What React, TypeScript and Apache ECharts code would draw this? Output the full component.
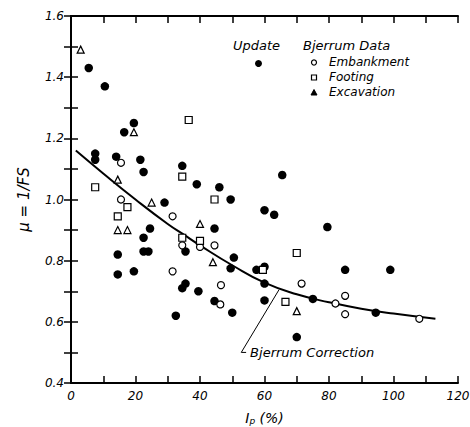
import React, { useEffect, useRef } from "react";
import * as echarts from "echarts";

// Updated case-history data (filled circles)
const updateX = [5.5, 10.5, 19.5, 16.5, 7.5, 7.5, 14, 21.5, 22.5, 34.5, 39, 29, 65.5, 46, 49.5, 24.5, 22.5, 35.5, 14.5, 22.5, 24, 14.5, 19.5, 35.5, 34.5, 39.5, 32.5, 60, 63, 79.5, 44.5, 50.5, 49.5, 57.5, 60, 60, 44.5, 50, 60, 75, 70, 85, 99, 94.5];
const updateY = [1.43, 1.37, 1.25, 1.22, 1.15, 1.13, 1.14, 1.13, 1.09, 1.11, 1.05, 0.99, 1.08, 1.04, 1.0, 0.905, 0.875, 0.83, 0.82, 0.83, 0.83, 0.755, 0.765, 0.725, 0.71, 0.7, 0.62, 0.965, 0.95, 0.91, 0.905, 0.81, 0.775, 0.77, 0.78, 0.725, 0.668, 0.63, 0.67, 0.675, 0.55, 0.77, 0.77, 0.63];

// Bjerrum data
const embankmentX = [15.5, 15.5, 31.5, 34.5, 40, 44.5, 31.5, 46.5, 46.3, 71.5, 85, 82, 85, 108];
const embankmentY = [1.12, 1.0, 0.945, 0.85, 0.845, 0.85, 0.765, 0.72, 0.657, 0.725, 0.685, 0.66, 0.625, 0.61];
const footingX = [36.5, 34.5, 7.5, 44.5, 17.5, 14.5, 34.5, 40, 70, 59.5, 66.5];
const footingY = [1.26, 1.075, 1.04, 1.0, 0.975, 0.945, 0.875, 0.865, 0.825, 0.77, 0.665];
const excavationX = [3, 19.5, 14.5, 25, 14.5, 17.5, 40, 44, 70];
const excavationY = [1.49, 1.22, 1.065, 0.99, 0.9, 0.9, 0.92, 0.795, 0.635];

// Bjerrum correction curve
const curveX = [1.5, 10, 20, 30, 35, 40, 50, 60, 70, 80, 90, 100, 113];
const curveY = [1.16, 1.085, 1.0, 0.92, 0.885, 0.85, 0.785, 0.728, 0.69, 0.664, 0.643, 0.627, 0.61];

// Leader line for the curve annotation
const leaderX = [64.5, 52.8, 54.3];
const leaderY = [0.705, 0.5, 0.5];

const xTicks = { min: 0, max: 120, step: 10 };
const yTicks = { min: 0.4, max: 1.6, step: 0.1 };

const zip = (xs: number[], ys: number[]) => xs.map((x, i) => [x, ys[i]]);

const FONT = "DejaVu Sans";
const INK = "#000";

export default function App() {
  const ref = useRef<HTMLDivElement>(null);
  useEffect(() => {
    if (!ref.current) return;
    const chart = echarts.init(ref.current, null, { renderer: "svg" });
    const labelStyle = { fontFamily: FONT, fontStyle: "italic", fontSize: 12, color: INK };
    const axisLine = { show: true, lineStyle: { color: INK, width: 2 } };
    const tick = { show: true, inside: true, length: 7, lineStyle: { color: INK, width: 1.5 } };
    const openStyle = { color: "#fff", borderColor: INK, borderWidth: 1.2, opacity: 1 };
    chart.setOption({
      animation: false,
      backgroundColor: "#fff",
      grid: { left: 71, top: 16, right: 12, bottom: 44, outerBoundsMode: "none", containLabel: false },
      xAxis: [
        {
          type: "value",
          min: xTicks.min,
          max: xTicks.max,
          interval: xTicks.step,
          position: "bottom",
          axisLine,
          axisTick: tick,
          splitLine: { show: false },
          axisLabel: {
            ...labelStyle,
            margin: 7,
            formatter: (v: number) => (Math.round(v) % 20 === 0 ? String(Math.round(v)) : ""),
          },
          name: "I{s|p} (%)",
          nameLocation: "middle",
          nameGap: 27,
          nameTextStyle: {
            fontFamily: FONT,
            fontStyle: "italic",
            fontSize: 14,
            color: INK,
            rich: { s: { fontFamily: FONT, fontStyle: "italic", fontSize: 9, color: INK, verticalAlign: "bottom", padding: [6, 0, 0, 0] } },
          },
        },
        {
          type: "value",
          min: xTicks.min,
          max: xTicks.max,
          interval: xTicks.step,
          position: "top",
          axisLine,
          axisTick: tick,
          splitLine: { show: false },
          axisLabel: { show: false },
        },
      ],
      yAxis: [
        {
          type: "value",
          min: yTicks.min,
          max: yTicks.max,
          interval: yTicks.step,
          position: "left",
          axisLine,
          axisTick: tick,
          splitLine: { show: false },
          axisLabel: {
            ...labelStyle,
            margin: 7,
            formatter: (v: number) => (Math.round(v * 10) % 2 === 0 ? v.toFixed(1) : ""),
          },
          name: "μ = 1/FS",
          nameLocation: "middle",
          nameRotate: 90,
          nameGap: 40,
          nameTextStyle: { fontFamily: FONT, fontStyle: "italic", fontSize: 15, color: INK },
        },
        {
          type: "value",
          min: yTicks.min,
          max: yTicks.max,
          interval: yTicks.step,
          position: "right",
          axisLine,
          axisTick: tick,
          splitLine: { show: false },
          axisLabel: { show: false },
        },
      ],
      series: [
        {
          type: "line",
          data: zip(curveX, curveY),
          smooth: true,
          symbol: "none",
          lineStyle: { color: INK, width: 2, opacity: 1 },
          z: 2,
        },
        {
          type: "line",
          data: zip(leaderX, leaderY),
          symbol: "none",
          lineStyle: { color: INK, width: 1, opacity: 1 },
          endLabel: {
            show: true,
            formatter: "Bjerrum Correction",
            fontFamily: FONT,
            fontStyle: "italic",
            fontSize: 13,
            color: INK,
            distance: 4,
          },
          z: 2,
        },
        {
          type: "scatter",
          data: zip(updateX, updateY),
          symbol: "circle",
          symbolSize: 8.5,
          itemStyle: { color: INK, opacity: 1 },
          z: 3,
        },
        {
          type: "scatter",
          data: zip(embankmentX, embankmentY),
          symbol: "circle",
          symbolSize: 7,
          itemStyle: openStyle,
          z: 3,
        },
        {
          type: "scatter",
          data: zip(footingX, footingY),
          symbol: "rect",
          symbolSize: 7,
          itemStyle: openStyle,
          z: 3,
        },
        {
          type: "scatter",
          data: zip(excavationX, excavationY),
          symbol: "triangle",
          symbolSize: 7,
          itemStyle: openStyle,
          z: 3,
        },
      ],
      graphic: [
        { type: "text", left: 233, top: 39, style: { text: "Update", fontFamily: FONT, fontStyle: "italic", fontSize: 13, fill: INK } },
        { type: "text", left: 303, top: 39, style: { text: "Bjerrum Data", fontFamily: FONT, fontStyle: "italic", fontSize: 13, fill: INK } },
        { type: "circle", shape: { cx: 258.5, cy: 63.5, r: 3.5 }, style: { fill: INK } },
        { type: "circle", shape: { cx: 314, cy: 62.5, r: 2.5 }, style: { fill: "#fff", stroke: INK, lineWidth: 1.2 } },
        { type: "rect", shape: { x: 311.5, y: 75, width: 5, height: 5 }, style: { fill: "#fff", stroke: INK, lineWidth: 1.2 } },
        { type: "polygon", shape: { points: [[314, 89.5], [317, 95], [311, 95]] }, style: { fill: INK, stroke: INK, lineWidth: 1 } },
        { type: "text", left: 329, top: 56, style: { text: "Embankment", fontFamily: FONT, fontStyle: "italic", fontSize: 12, fill: INK } },
        { type: "text", left: 329, top: 71, style: { text: "Footing", fontFamily: FONT, fontStyle: "italic", fontSize: 12, fill: INK } },
        { type: "text", left: 329, top: 86, style: { text: "Excavation", fontFamily: FONT, fontStyle: "italic", fontSize: 12, fill: INK } },
      ],
    });
    return () => chart.dispose();
  }, []);
  return (
    <div
      ref={ref}
      style={{ position: "fixed", left: 0, top: 0, width: 470, height: 427, background: "#fff" }}
    />
  );
}
